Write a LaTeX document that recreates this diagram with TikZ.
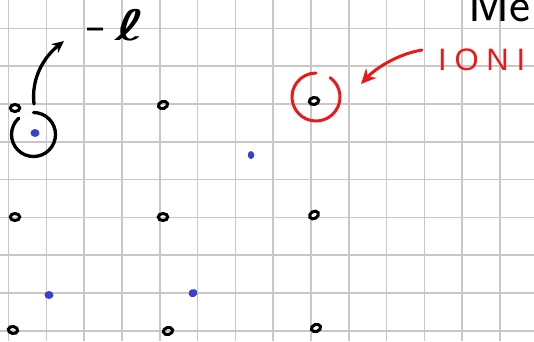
\documentclass[tikz,border=0pt]{standalone}
\usepackage{fontspec}
\usepackage{graphicx}
\usetikzlibrary{shapes.geometric,arrows.meta}
\definecolor{gridgray}{RGB}{200,200,200}
\definecolor{inkblue}{RGB}{55,65,205}
\definecolor{inkred}{RGB}{235,25,25}
\newfontfamily\handsans[LetterSpace=25]{Liberation Sans}
\newfontfamily\dvsans{DejaVu Sans}
\tikzset{
  gridline/.style={gridgray, line width=1.6pt},
  atom/.style={ellipse, draw=black, line width=3pt, minimum width=9.5pt, minimum height=7pt, inner sep=0pt},
  electron/.style={ellipse, fill=inkblue, minimum width=9pt, minimum height=8pt, inner sep=0pt},
  inkline/.style={line width=3.3pt, line cap=round},
  redline/.style={inkred, line width=3pt, line cap=round},
}
\begin{document}
\begin{tikzpicture}[x=1pt,y=-1pt]
\useasboundingbox (0,0) rectangle (534,341);
\fill[white] (0,0) rectangle (534,341);
% grid
\foreach \i in {0,...,13} { \draw[gridline] ({8.5+37.8*\i},0) -- ({8.5+37.8*\i},341); }
\foreach \j in {0,...,8} { \draw[gridline] (0,{28.3+37.8*\j}) -- (534,{28.3+37.8*\j}); }
% atoms
\node[atom] (a1) at (15,108) {};
\node[atom, rotate=20] (a2) at (163,105) {};
\node[atom, rotate=10] (a3) at (314,101) {};
\node[atom] (a4) at (15,217) {};
\node[atom] (a5) at (163,217) {};
\node[atom, rotate=30] (a6) at (314,215) {};
\node[atom, rotate=-10] (a7) at (13,330) {};
\node[atom, rotate=15] (a8) at (168,331) {};
\node[atom, rotate=20] (a9) at (316,328) {};
% electrons
\node[electron] (e1) at (35,133) {};
\node[electron, minimum width=6.5pt, minimum height=8pt] (e2) at (251,155) {};
\node[electron] (e3) at (49,295) {};
\node[electron, rotate=20] (e4) at (193,293) {};
% black circle around electron
\coordinate (c1) at (33.5,134.5);
\draw[inkline] (c1) ++(270:22) arc[start angle=270, end angle=588, radius=22];
% black arrow
\coordinate (arS) at (34,104);
\coordinate (arE) at (64,41);
\draw[inkline, -{Stealth[length=12pt,width=11pt]}] (arS) .. controls (31,78) and (44,57) .. (arE);
% -l label
\node[anchor=base west, inner sep=0pt] (lab) at (85,40) {\fontsize{40}{40}\selectfont\dvsans –\hspace{10pt}\scalebox{1.8}[1.05]{ℓ}};
% Me (cropped, as in the reference)
\node[anchor=base west, inner sep=0pt] (me) at (468,21) {\fontsize{50}{50}\selectfont\sffamily Me};
% red circle around atom
\coordinate (c2) at (316,97);
\draw[redline] (c2) ++(306:24) arc[start angle=306, end angle=630, radius=24];
% red arrow
\coordinate (rS) at (422,50);
\coordinate (rE) at (361,84);
\draw[redline, -{Stealth[length=15pt,width=14pt]}] (rS) .. controls (398,54) and (376,68) .. (rE);
% IONI label
\node[anchor=base west, inner sep=0pt, text=inkred] (ioni) at (438,70) {\fontsize{31}{31}\selectfont\handsans IONI};
\end{tikzpicture}
\end{document}
